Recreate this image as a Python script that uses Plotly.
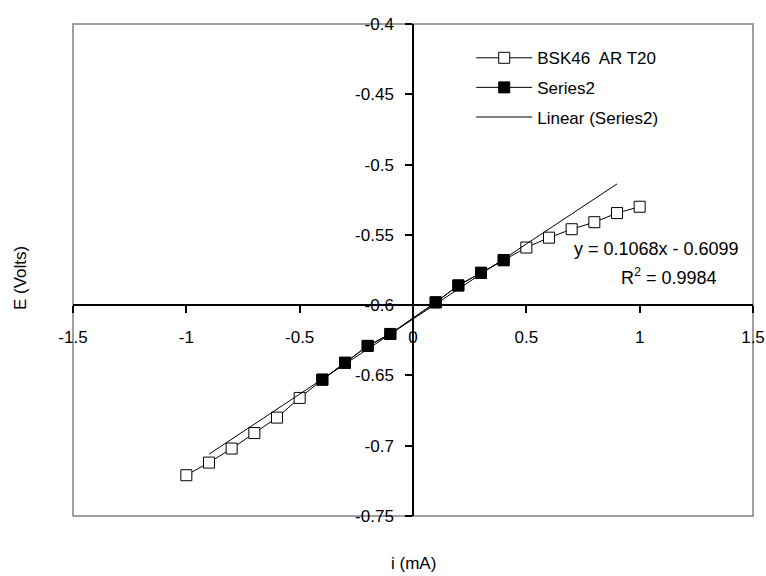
import plotly.graph_objects as go

# Data
x_open = [-1.0, -0.9, -0.8, -0.7, -0.6, -0.5, -0.4, -0.3, -0.2, -0.1, 0.1, 0.2, 0.3, 0.4, 0.5, 0.6, 0.7, 0.8, 0.9, 1.0]
y_open = [-0.721, -0.712, -0.702, -0.691, -0.680, -0.666, -0.653, -0.641, -0.629, -0.6205,
          -0.598, -0.586, -0.577, -0.568, -0.559, -0.552, -0.546, -0.541, -0.5345, -0.530]
x_s2 = [-0.4, -0.3, -0.2, -0.1, 0.1, 0.2, 0.3, 0.4]
y_s2 = [-0.653, -0.641, -0.629, -0.6205, -0.598, -0.586, -0.577, -0.568]
slope = 0.1068
intercept = -0.6099
r2 = 0.9984
trend_x = [-0.9, 0.9]
trend_y = [slope * v + intercept for v in trend_x]

x_ticks = [-1.5, -1, -0.5, 0, 0.5, 1, 1.5]
x_tick_text = ["-1.5", "-1", "-0.5", "0", "0.5", "1", "1.5"]
y_ticks = [-0.75, -0.7, -0.65, -0.6, -0.55, -0.5, -0.45, -0.4]
y_tick_text = ["-0.75", "-0.7", "-0.65", "-0.6", "-0.55", "-0.5", "-0.45", "-0.4"]

FONT = "Liberation Sans, Arial, sans-serif"
FS = 17

fig = go.Figure()
fig.add_trace(go.Scatter(
    x=x_open, y=y_open, mode="lines+markers", name="BSK46  AR T20",
    line=dict(color="black", width=1),
    marker=dict(symbol="square", size=11, color="white", line=dict(color="black", width=1)),
    legendgroup="a"))
fig.add_trace(go.Scatter(
    x=x_s2, y=y_s2, mode="lines+markers", name="Series2",
    line=dict(color="black", width=1),
    marker=dict(symbol="square", size=11, color="black", line=dict(color="black", width=1)),
    legendgroup="b"))
fig.add_trace(go.Scatter(
    x=trend_x, y=trend_y, mode="lines", name="Linear (Series2)",
    line=dict(color="black", width=1), legendgroup="c"))

fig.update_layout(
    width=766, height=576,
    margin=dict(l=73, r=13, t=24, b=60, autoexpand=False),
    paper_bgcolor="white", plot_bgcolor="white",
    font=dict(family=FONT, size=FS, color="black"),
    showlegend=True,
    legend=dict(x=0.5856, y=0.967, xanchor="left", yanchor="top",
                bgcolor="rgba(0,0,0,0)", font=dict(size=FS),
                tracegroupgap=4.5, itemwidth=56),
    xaxis=dict(range=[-1.5, 1.5], anchor="free", position=(-0.6 + 0.75) / 0.35,
               showline=True, linecolor="black", linewidth=1.5,
               showgrid=False, zeroline=False,
               ticks="outside", ticklen=7, tickcolor="black", tickwidth=1.5,
               tickvals=x_ticks, ticktext=x_tick_text, ticklabelstandoff=10),
    yaxis=dict(range=[-0.75, -0.4], anchor="free", position=0.5,
               showline=True, linecolor="black", linewidth=1.5,
               showgrid=False, zeroline=False,
               ticks="outside", ticklen=7, tickcolor="black", tickwidth=1.5,
               tickvals=y_ticks, ticktext=y_tick_text, ticklabelstandoff=8),
    shapes=[dict(type="rect", xref="paper", yref="paper", x0=0, x1=1, y0=0, y1=1,
                 line=dict(color="#808080", width=1.5), layer="below")],
    annotations=[
        dict(text="y = %.4fx - %.4f" % (slope, -intercept), x=1.076, y=-0.560,
             xref="x", yref="y", showarrow=False, font=dict(size=FS + 1)),
        dict(text="R<sup>2</sup> = %.4f" % r2, x=1.129, y=-0.5793,
             xref="x", yref="y", showarrow=False, font=dict(size=FS + 1)),
        dict(text="E (Volts)", x=(20 - 73) / 680, y=(516 - 278) / 492,
             xref="paper", yref="paper", showarrow=False, textangle=-90,
             xanchor="center", yanchor="middle"),
        dict(text="i (mA)", x=0.5, y=-(563 - 516) / 492, xref="paper", yref="paper",
             showarrow=False, xanchor="center", yanchor="middle"),
    ],
)

fig.write_html("out.html", config={"displayModeBar": False},
               post_script="document.body.style.margin='0';document.body.style.overflow='hidden';")
